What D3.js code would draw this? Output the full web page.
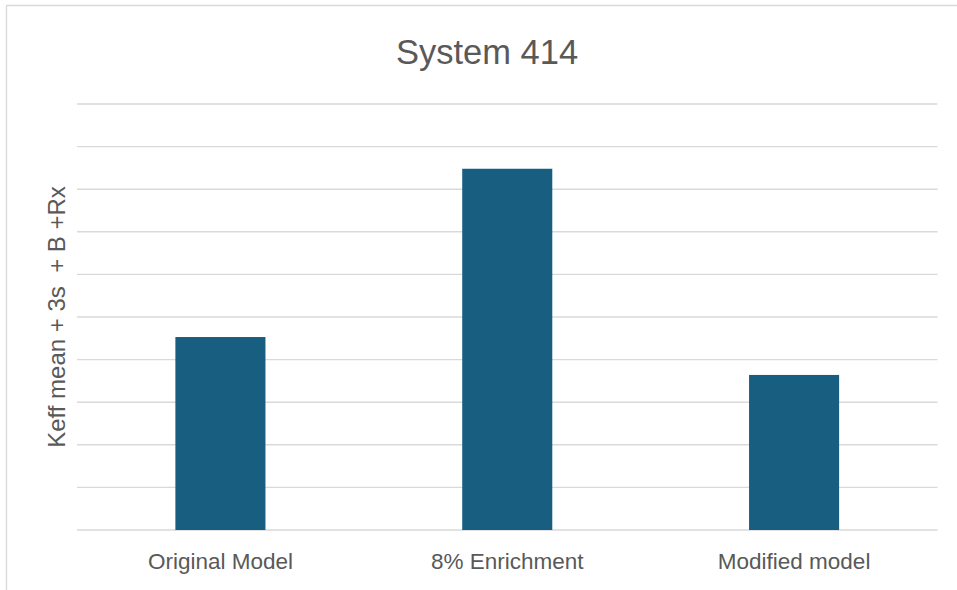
<!DOCTYPE html>
<html>
<head>
<meta charset="utf-8">
<script src="https://cdn.jsdelivr.net/npm/d3@7"></script>
<style>
  html, body { margin: 0; padding: 0; background: #fff; }
  svg { display: block; }
  text { font-family: "Liberation Sans", Arial, sans-serif; fill: #595959; }
</style>
</head>
<body>
<script>
const title = "System 414";
const yLabel = "Keff mean + 3s  + B +Rx";
const categories = ["Original Model", "8% Enrichment", "Modified model"];
const values = [4.53, 8.48, 3.64];
const yTicks = [0, 1, 2, 3, 4, 5, 6, 7, 8, 9, 10];

const W = 957, H = 590;
const margin = { left: 77, right: 20, top: 104, bottom: 60 };
const plotRight = 937.5, plotBottom = 530;

const svg = d3.select("body").append("svg").attr("width", W).attr("height", H);

// chart border
svg.append("path")
  .attr("d", `M6.5,${H} V5.5 H${W}`)
  .attr("fill", "none").attr("stroke", "#d9d9d9").attr("stroke-width", 1.3);

const x = d3.scaleBand().domain(categories)
  .range([margin.left, plotRight])
  .paddingInner(0.686).paddingOuter(0.343);
const y = d3.scaleLinear().domain([0, 10]).range([plotBottom, margin.top]);

// gridlines
svg.append("g").selectAll("line").data(yTicks).join("line")
  .attr("x1", margin.left).attr("x2", plotRight)
  .attr("y1", d => y(d)).attr("y2", d => y(d))
  .attr("stroke", "#d9d9d9").attr("stroke-width", 1.4);

// bars
svg.append("g").selectAll("rect").data(values).join("rect")
  .attr("x", (d, i) => x(categories[i]))
  .attr("width", x.bandwidth())
  .attr("y", d => y(d))
  .attr("height", d => y(0) - y(d))
  .attr("fill", "#175e80");

// x axis labels
const xAxis = d3.axisBottom(x).tickSize(0).tickPadding(0);
const gx = svg.append("g").attr("transform", `translate(0,${plotBottom})`).call(xAxis);
gx.select(".domain").remove();
gx.selectAll("text")
  .attr("y", 39).attr("dy", 0)
  .style("font-size", "22.5px")
  .style("font-family", "'Liberation Sans', Arial, sans-serif")
  .attr("fill", "#595959");

// title
svg.append("text").attr("x", 487).attr("y", 64)
  .attr("text-anchor", "middle").style("font-size", "34.5px").text(title);

// y label
svg.append("text")
  .attr("transform", `translate(65,317) rotate(-90)`)
  .attr("text-anchor", "middle").style("font-size", "24px")
  .style("white-space", "pre").attr("xml:space", "preserve")
  .text(yLabel);
</script>
</body>
</html>
